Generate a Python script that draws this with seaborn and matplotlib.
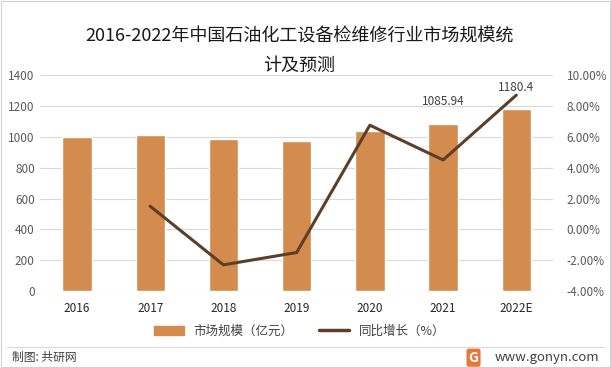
import numpy as np
import pandas as pd
import seaborn as sns
import matplotlib.pyplot as plt
from matplotlib.patches import Rectangle
from matplotlib.lines import Line2D

years = ["2016", "2017", "2018", "2019", "2020", "2021", "2022E"]
market_size = [996, 1011, 988, 973, 1039, 1085.94, 1180.4]
growth = [np.nan, 1.5, -2.3, -1.5, 6.75, 4.5, 8.7]
label_years = ["2021", "2022E"]

bar_color = "#D48B4E"
line_color = "#5C3F28"
tick_gray = "#595959"

sns.set_theme(style="white")
plt.rcParams["font.family"] = ["Noto Sans CJK SC", "DejaVu Sans"]

df = pd.DataFrame({"year": years, "size": market_size, "growth": growth})
df["pos"] = range(len(df))

fig = plt.figure(figsize=(6.11, 3.68), dpi=100)
ax = fig.add_axes([0.066, 0.209, 0.839, 0.587])

sns.barplot(data=df, x="year", y="size", color=bar_color, width=0.4,
            saturation=1, ax=ax, zorder=2)
ax.set_ylim(0, 1400)
ax.set_yticks(range(0, 1401, 200))
ax.set_xlim(-0.5, 6.5)
ax.yaxis.grid(True, color="#D9D9D9", linewidth=0.8, zorder=0)
ax.set_axisbelow(True)
ax.set_xlabel("")
ax.set_ylabel("")
ax.tick_params(axis="y", labelsize=8.5, labelcolor=tick_gray, length=0, pad=4)
ax.tick_params(axis="x", labelsize=8.5, labelcolor="#262626", length=0, pad=8)
for s in ax.spines.values():
    s.set_visible(False)

for i, row in df.iterrows():
    if row["year"] in label_years:
        ax.text(row["pos"], row["size"] + 100, f"{row['size']:g}", ha="center",
                va="bottom", fontsize=8.5, color="#404040")

ax2 = ax.twinx()
sns.lineplot(data=df.dropna(), x="pos", y="growth", color=line_color,
             linewidth=2.2, ax=ax2)
ax2.set_ylim(-4, 10)
ax2.set_yticks(range(-4, 11, 2))
ax2.set_yticklabels([f"{v:.2f}%" for v in range(-4, 11, 2)])
ax2.set_xlim(-0.5, 6.5)
ax2.set_xlabel("")
ax2.set_ylabel("")
ax2.tick_params(axis="y", labelsize=8.5, labelcolor=tick_gray, length=0, pad=10)
for s in ax2.spines.values():
    s.set_visible(False)

fig.text(0.49, 0.9, "2016-2022年中国石油化工设备检维修行业市场规模统", ha="center",
         va="center", fontsize=13, color="#1a1a1a")
fig.text(0.49, 0.82, "计及预测", ha="center", va="center", fontsize=13,
         color="#1a1a1a")

handles = [Rectangle((0, 0), 1, 1, color=bar_color),
           Line2D([0], [0], color=line_color, linewidth=2.5)]
fig.legend(handles, ["市场规模（亿元）", "同比增长（%）"], loc="center",
           bbox_to_anchor=(0.49, 0.1), ncol=2, frameon=False, fontsize=9,
           handlelength=2.4, handleheight=0.8, columnspacing=2.0,
           labelcolor="#404040")

fig.add_artist(Line2D([0.012, 0.988], [0.057, 0.057], color="#D9D9D9",
                      linewidth=0.8))
fig.add_artist(Rectangle((0.002, 0.003), 0.996, 0.994, fill=False,
                         edgecolor="#D0D0D0", linewidth=0.8,
                         transform=fig.transFigure))
fig.text(0.02, 0.028, "制图: 共研网", ha="left", va="center", fontsize=8.5,
         color="#404040")
fig.text(0.98, 0.028, "www.gonyn.com", ha="right", va="center", fontsize=9.5,
         color="#404040")
fig.text(0.775, 0.028, "G", ha="center", va="center", fontsize=10,
         fontweight="bold", color="white",
         bbox=dict(boxstyle="round,pad=0.15", fc="#E8783A", ec="none"))

fig.savefig("out.png", dpi=100)
